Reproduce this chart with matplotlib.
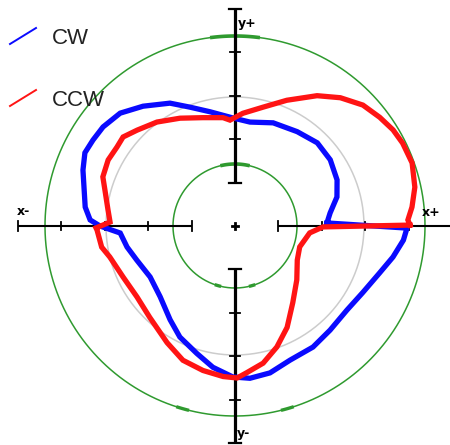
import numpy as np
import matplotlib
matplotlib.use("Agg")
import matplotlib.pyplot as plt

# sweep data: angle in degrees, radius in plot units (1 unit = 1 px)
CW_ANGLE = [1.9, 7.8, 15.9, 24.3, 34.8, 45.3, 56.6, 69.7, 81.8, 91.0, 102.4, 110.7,
            117.9, 127.5, 135.5, 143.1, 148.8, 154.0, 159.8, 172.8, 177.6, 180.0,
            183.5, 191.0, 199.1, 211.0, 223.4, 235.3, 243.6, 253.3, 261.1, 269.2,
            275.6, 283.4, 292.3, 302.8, 312.4, 323.1, 332.4, 342.0, 348.9, 355.2, 359.3]
CW_RADIUS = [92, 96, 106, 112, 116, 117, 113, 110, 105, 108, 117, 127,
             139, 151, 161, 165, 166, 167, 162, 151, 145, 135,
             115, 110, 104, 99, 103, 114, 124, 133, 143, 151,
             153, 151, 145, 144, 141, 140, 144, 152, 161, 169, 172]

CCW_ANGLE = [0.3, 2.0, 6.1, 12.2, 19.6, 26.3, 31.3, 36.9, 43.4, 50.6, 57.8, 67.6,
             76.8, 86.0, 92.7, 96.3, 106.5, 117.0, 126.9, 135.6, 141.5, 146.2, 152.5,
             159.6, 164.5, 172.8, 178.2, 180.8, 181.7, 189.0, 193.9, 204.5, 215.9,
             227.0, 239.8, 248.8, 257.5, 265.5, 270.8, 274.7, 281.6, 289.1, 297.2,
             307.0, 318.9, 331.3, 342.1, 354.7, 359.4]
CCW_RADIUS = [175, 173, 178, 184, 188, 187, 185, 181, 176, 166, 154, 136,
              122, 113, 106, 109, 113, 121, 130, 137, 143, 142, 143,
              141, 135, 128, 125, 139, 138, 135, 129, 123, 121,
              125, 135, 144, 148, 151, 152, 147, 140, 128, 114,
              96, 82, 71, 68, 75, 88]

SERIES_NAMES = ["CW", "CCW"]
RING_RADII = [62, 129, 190]
TICK_STEP = 43.4
AXIS_LABELS = ["x+", "x-", "y+", "y-"]

GREEN = "#2f9a2f"
BLUE = "#0a0aff"
RED = "#ff1414"


def to_xy(angle_deg, radius):
    a = np.radians(np.asarray(angle_deg, dtype=float))
    r = np.asarray(radius, dtype=float)
    return r * np.cos(a), r * np.sin(a)


fig = plt.figure(figsize=(4.5, 4.45), dpi=100)
ax = fig.add_axes([0, 0, 1, 1])
ax.set_xlim(-235, 215)
ax.set_ylim(-219, 226)
ax.set_aspect("equal")
ax.axis("off")

# reference rings
t = np.linspace(0, 2 * np.pi, 400)
ax.plot(RING_RADII[0] * np.cos(t), RING_RADII[0] * np.sin(t), color=GREEN, lw=1.1, zorder=1)
ax.plot(RING_RADII[1] * np.cos(t), RING_RADII[1] * np.sin(t), color="#cccccc", lw=1.1, zorder=1)
ax.plot(RING_RADII[2] * np.cos(t), RING_RADII[2] * np.sin(t), color=GREEN, lw=1.1, zorder=1)

# heavier marks on the green rings
for r, half in [(RING_RADII[0], 12), (RING_RADII[2], 7)]:
    a = np.radians(np.linspace(90 - half, 90 + half, 30))
    ax.plot(r * np.cos(a), r * np.sin(a), color=GREEN, lw=2.6, zorder=2)
    for c in (254, 286):
        a = np.radians(np.linspace(c - 1.5, c + 1.5, 6))
        ax.plot(r * np.cos(a), r * np.sin(a), color=GREEN, lw=2.4, zorder=2)

# axis arms with a gap around the centre
inner, outer = TICK_STEP, TICK_STEP * 5
for s in (-1, 1):
    ax.plot([s * inner, s * outer], [0, 0], color="black", lw=1.5, zorder=3, solid_capstyle="butt")
    ax.plot([0, 0], [s * inner, s * outer], color="black", lw=2.3, zorder=3, solid_capstyle="butt")
    for k in range(1, 6):
        d = s * TICK_STEP * k
        h = 5 if k in (1, 5) else 4
        ax.plot([d, d], [-h, h], color="black", lw=1.3, zorder=3)
        ax.plot([-h - 1, h + 1], [d, d], color="black", lw=1.6 if k in (1, 5) else 1.3, zorder=3)
ax.plot([-3, 3], [0, 0], color="black", lw=2, zorder=3)
ax.plot([0, 0], [-3, 3], color="black", lw=2, zorder=3)

# axis names
label_font = dict(fontsize=9, fontweight="bold", color="black", family="DejaVu Sans")
ax.text(187, 13, AXIS_LABELS[0], ha="left", va="center", **label_font)
ax.text(-218, 14, AXIS_LABELS[1], ha="left", va="center", **label_font)
ax.text(3, 203, AXIS_LABELS[2], ha="left", va="center", **label_font)
ax.text(2, -207, AXIS_LABELS[3], ha="left", va="center", **label_font)

# sweeps, closed back to their first point
for ang, rad, color in [(CW_ANGLE, CW_RADIUS, BLUE), (CCW_ANGLE, CCW_RADIUS, RED)]:
    x, y = to_xy(ang + ang[:1], rad + rad[:1])
    ax.plot(x, y, color=color, lw=3.8, zorder=4, solid_joinstyle="miter")

# legend
for (name, color, dy) in [(SERIES_NAMES[0], BLUE, 188), (SERIES_NAMES[1], RED, 126)]:
    ax.plot([-225, -199], [dy - 6, dy + 10], color=color, lw=1.4, zorder=5)
    ax.text(-183, dy, name, ha="left", va="center", fontsize=16, color="#222222",
            family="Liberation Sans", zorder=5)

fig.savefig("out.png", dpi=100, facecolor="white")
